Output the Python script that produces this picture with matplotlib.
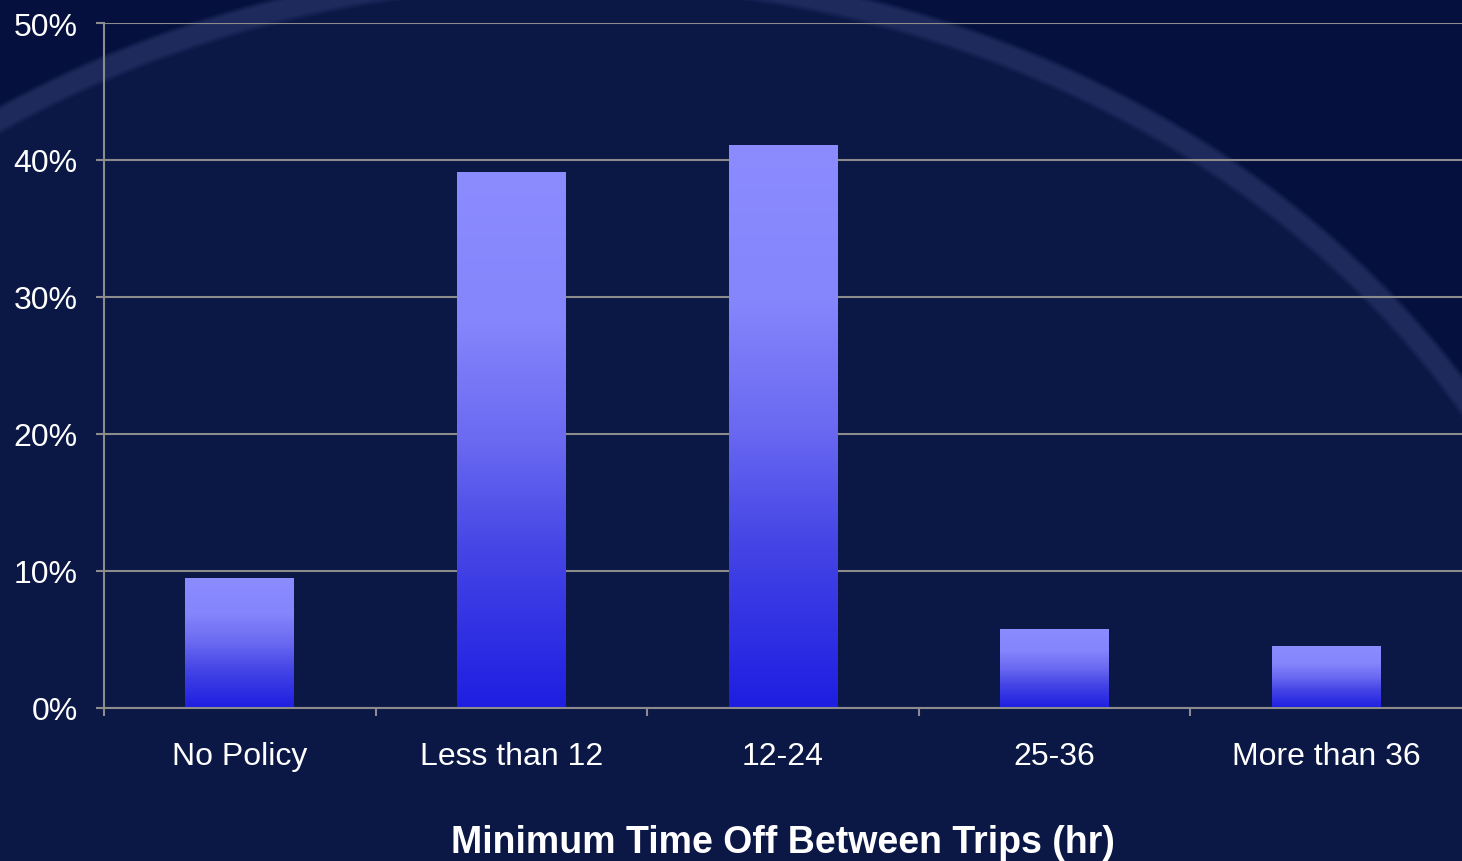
import numpy as np
import matplotlib
matplotlib.use("Agg")
import matplotlib.pyplot as plt
from matplotlib.patches import Ellipse, Rectangle
from matplotlib.colors import LinearSegmentedColormap
from matplotlib.transforms import offset_copy

# Share of respondents by minimum time off between trips
categories = ["No Policy", "Less than 12", "12-24", "25-36", "More than 36"]
shares = [9.5, 39.1, 41.1, 5.8, 4.5]          # percent
y_ticks = [0, 10, 20, 30, 40, 50]
y_tick_labels = ["0%", "10%", "20%", "30%", "40%", "50%"]
x_title = "Minimum Time Off Between Trips (hr)"

W, H, DPI = 1462, 862, 100
plt.rcParams["font.family"] = ["Liberation Sans", "DejaVu Sans"]

fig = plt.figure(figsize=(W / DPI, H / DPI), dpi=DPI)

# ---- slide-style background: dark navy with a faint sweeping arc ----
outer_col = "#05103e"
inner_col = "#0b1745"
band_col = "#1e2a5c"
bg = fig.add_axes([0, 0, 1, 1], zorder=-5)
bg.set_xlim(0, W)
bg.set_ylim(H, 0)
bg.axis("off")
bg.add_patch(Rectangle((0, 0), W, H, color=outer_col, lw=0))
arc_c, arc_w, arc_h = (572, 871), 2 * 1050, 2 * 895
bg.add_patch(Ellipse(arc_c, arc_w, arc_h, facecolor=inner_col, edgecolor="none"))
for lw, a in [(19, 0.35), (16, 0.6), (13, 1.0)]:
    bg.add_patch(Ellipse(arc_c, arc_w, arc_h, facecolor="none",
                         edgecolor=band_col, lw=lw, alpha=a))

# ---- chart axes ----
left_px, top_px, bottom_px = 104, 24, 709
ax = fig.add_axes([left_px / W, 1 - bottom_px / H,
                   1 - left_px / W, (bottom_px - top_px) / H])
ax.set_facecolor("none")

x = np.arange(len(categories))

grid_col = "#8c8c8c"
ax.set_yticks(y_ticks)
ax.set_yticklabels(y_tick_labels)
ax.yaxis.grid(True, color=grid_col, lw=1.5, zorder=1)
ax.set_axisbelow(True)

ax.set_xticks(x)
ax.set_xticklabels(categories)
ax.set_xticks(np.arange(len(categories)) - 0.5, minor=True)

for side in ["top", "right"]:
    ax.spines[side].set_visible(False)
for side in ["left", "bottom"]:
    ax.spines[side].set_color(grid_col)
    ax.spines[side].set_linewidth(1.5)
    ax.spines[side].set_zorder(6)

ax.tick_params(axis="y", colors=grid_col, labelcolor="white", labelsize=23,
               length=6, width=1.5, pad=13)
ax.tick_params(axis="x", which="major", length=0, labelcolor="white",
               labelsize=23, pad=24)
ax.tick_params(axis="x", which="minor", colors=grid_col, length=6, width=1.5)

# ---- gradient-filled bars ----
bar_cmap = LinearSegmentedColormap.from_list(
    "barfill",
    [(0.0, "#1e1ee2"), (0.3, "#4646e6"), (0.5, "#6a6af2"),
     (0.72, "#8585fc"), (1.0, "#8c8cff")])
grad = np.linspace(0, 1, 256).reshape(-1, 1)

bars = ax.bar(x, shares, width=0.4, color="none", zorder=3)
for b in bars:
    bx, by = b.get_x(), b.get_y()
    bw, bh = b.get_width(), b.get_height()
    shadow = Rectangle((bx, by), bw, bh, facecolor="black", alpha=0.35, lw=0,
                       transform=offset_copy(ax.transData, fig=fig, x=0, y=-4,
                                             units="dots"),
                       zorder=2)
    ax.add_patch(shadow)
    im = ax.imshow(grad, cmap=bar_cmap, origin="lower", aspect="auto",
                   extent=[bx, bx + bw, by, by + bh], zorder=4,
                   interpolation="bilinear")
    im.set_clip_path(b)
ax.set_xlim(-0.5, len(categories) - 0.5)
ax.set_ylim(0, 50)

fig.text((left_px + (W - left_px) / 2) / W, 9 / H, x_title, ha="center",
         va="baseline", color="white", fontsize=27, fontweight="bold")

fig.savefig("out.png", dpi=DPI, facecolor=outer_col)
